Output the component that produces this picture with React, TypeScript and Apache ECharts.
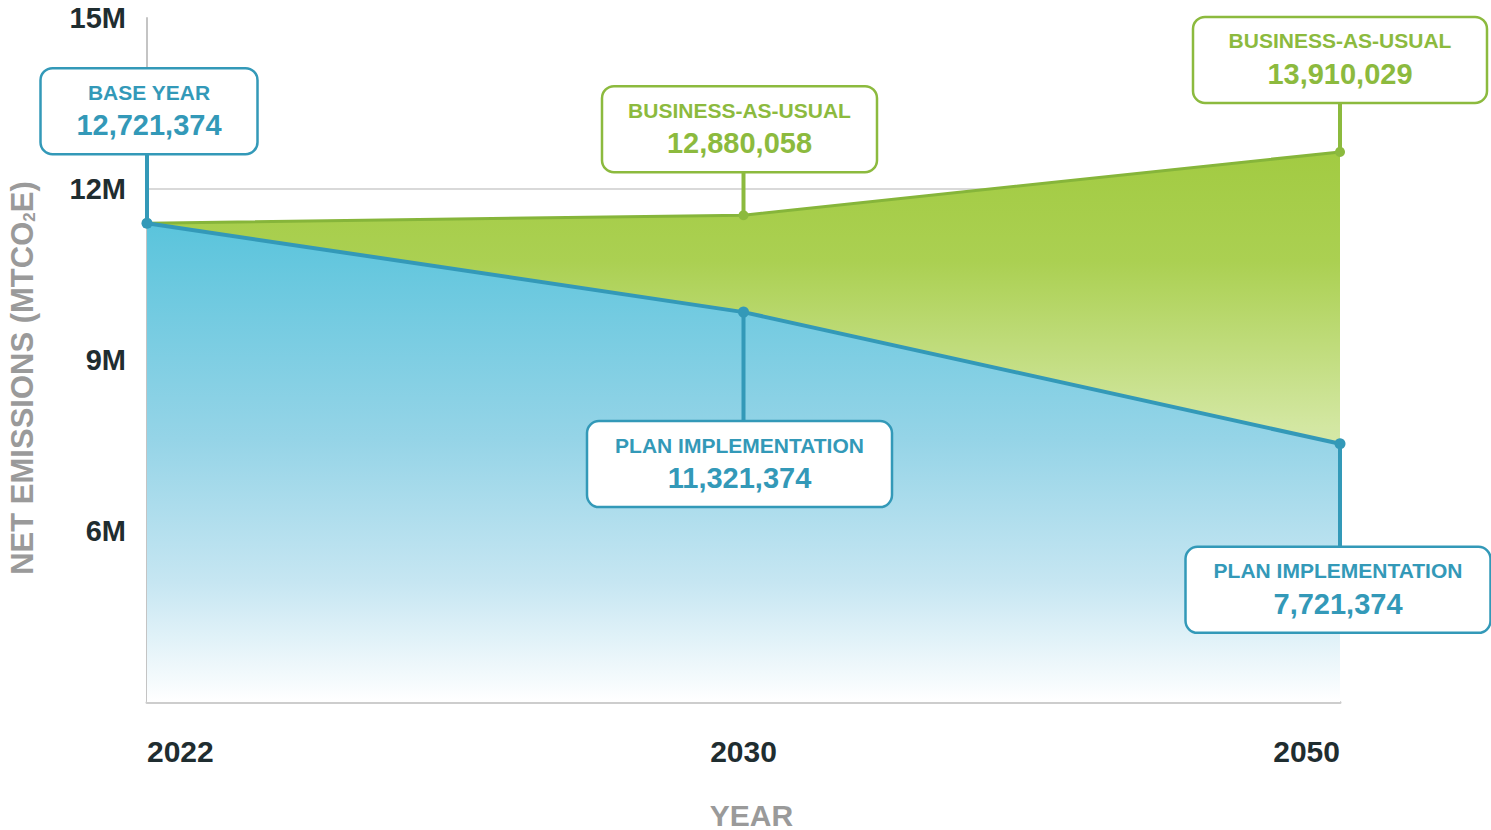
import React, { useEffect, useRef } from 'react';
import * as echarts from 'echarts';

// ---- data ----
const years = ['2022', '2030', '2050'];
// plotted positions of the lines (illustrative chart)
const planValues = [11.4e6, 9.84e6, 7.53e6];
const bauValues = [11.4e6, 11.54e6, 12.65e6];
const yMin = 3e6;
const yMax = 15e6;
const yStep = 3e6;
// callouts
const calloutTitles = ['BASE YEAR', 'BUSINESS-AS-USUAL', 'BUSINESS-AS-USUAL', 'PLAN IMPLEMENTATION', 'PLAN IMPLEMENTATION'];
const calloutValues = ['12,721,374', '12,880,058', '13,910,029', '11,321,374', '7,721,374'];
const calloutSeries = ['plan', 'bau', 'bau', 'plan', 'plan'];
const calloutIndex = [0, 1, 2, 1, 2];

const FONT = '"Liberation Sans", Arial, Helvetica, sans-serif';
const TEAL = '#3399b8';
const GREEN = '#8cba3e';

// layout of each callout box relative to its point
const calloutLayout = [
  { w: 217, gap: -69, dx: 2 },
  { w: 275, gap: -43, dx: -4 },
  { w: 294, gap: -49, dx: 0 },
  { w: 305, gap: 109, dx: -4 },
  { w: 305, gap: 103, dx: -2 },
];
const BOX_H = 86;

export default function App() {
  const ref = useRef<HTMLDivElement>(null);

  useEffect(() => {
    document.body.style.margin = '0';
    if (!ref.current) return;
    const chart = echarts.init(ref.current, null, { renderer: 'svg' });

    const option: any = {
      animation: false,
      backgroundColor: '#ffffff',
      grid: { left: 147, right: 151, top: 18, bottom: 128, containLabel: false, outerBoundsMode: 'none' },
      xAxis: {
        type: 'category',
        data: years,
        boundaryGap: false,
        axisLine: { show: true, lineStyle: { color: '#cdcdcd', width: 3 } },
        axisTick: { show: false },
        axisLabel: {
          color: '#1f2d30',
          fontFamily: FONT,
          fontWeight: 'bold',
          fontSize: 30,
          margin: 34,
          alignMinLabel: 'left',
          alignMaxLabel: 'right',
        },
        splitLine: { show: false },
        name: 'YEAR',
        nameLocation: 'middle',
        nameGap: 98,
        nameTextStyle: { color: '#9a9a9a', fontFamily: FONT, fontWeight: 'bold', fontSize: 30, padding: [0, 0, 0, 16] },
      },
      yAxis: {
        type: 'value',
        min: yMin,
        max: yMax,
        interval: yStep,
        axisLine: { show: true, lineStyle: { color: '#c4c4c4', width: 2 } },
        axisTick: { show: false },
        splitLine: {
          show: true,
          showMinLine: false,
          showMaxLine: false,
          lineStyle: { color: '#d9d9d9', width: 2 },
        },
        axisLabel: {
          color: '#1f2d30',
          fontFamily: FONT,
          fontWeight: 'bold',
          fontSize: 29,
          margin: 21,
          formatter: (v: number) => (v === yMin ? '' : v / 1e6 + 'M'),
        },
        name: 'NET EMISSIONS (MTCO{sub|2}E)',
        nameLocation: 'middle',
        nameRotate: 90,
        nameGap: 109,
        nameTextStyle: {
          color: '#9a9a9a',
          fontFamily: FONT,
          fontWeight: 'bold',
          fontSize: 31,
          padding: [0, 36, 0, 0],
          rich: {
            sub: { color: '#9a9a9a', fontFamily: FONT, fontWeight: 'bold', fontSize: 17, verticalAlign: 'bottom', padding: [14, 0, 0, 0] },
          },
        },
      },
      series: [
        {
          name: 'bau',
          type: 'line',
          data: bauValues,
          z: 2,
          symbol: 'circle',
          symbolSize: 10,
          itemStyle: { color: GREEN },
          lineStyle: { color: '#86b53a', width: 3 },
          areaStyle: {
            opacity: 1,
            color: new echarts.graphic.LinearGradient(0, 0, 0, 1, [
              { offset: 0, color: '#a2cb42' },
              { offset: 0.2, color: '#abd052' },
              { offset: 0.5, color: '#d3e7a2' },
              { offset: 1, color: '#eef6dd' },
            ]),
          },
        },
        {
          name: 'plan',
          type: 'line',
          data: planValues,
          z: 3,
          symbol: 'circle',
          symbolSize: 11,
          itemStyle: { color: TEAL },
          lineStyle: { color: TEAL, width: 4 },
          areaStyle: {
            opacity: 1,
            color: new echarts.graphic.LinearGradient(0, 0, 0, 1, [
              { offset: 0, color: '#5ac4dc' },
              { offset: 0.45, color: '#95d4e7' },
              { offset: 0.75, color: '#c6e6f2' },
              { offset: 1, color: '#ffffff' },
            ]),
          },
        },
      ],
    };
    chart.setOption(option);

    const elements: any[] = [];
    calloutTitles.forEach((title, i) => {
      const sName = calloutSeries[i];
      const vals = sName === 'plan' ? planValues : bauValues;
      const idx = calloutIndex[i];
      const p = chart.convertToPixel({ gridIndex: 0 }, [idx, vals[idx]]) as number[];
      const lay = calloutLayout[i];
      const color = sName === 'plan' ? TEAL : GREEN;
      const px = p[0];
      const py = p[1];
      const cx = px + lay.dx;
      const top = lay.gap < 0 ? py + lay.gap - BOX_H : py + lay.gap;
      const edge = lay.gap < 0 ? top + BOX_H : top;
      elements.push({
        type: 'line',
        z: 100,
        shape: { x1: px, y1: py, x2: px, y2: edge },
        style: { stroke: color, lineWidth: 4 },
      });
      elements.push({
        type: 'rect',
        z: 101,
        shape: { x: cx - lay.w / 2, y: top, width: lay.w, height: BOX_H, r: 12 },
        style: { fill: '#ffffff', stroke: color, lineWidth: 2.5 },
      });
      elements.push({
        type: 'text',
        z: 102,
        x: cx,
        y: top + 24,
        style: {
          text: title,
          fill: color,
          font: `bold 21px ${FONT}`,
          textAlign: 'center',
          textVerticalAlign: 'middle',
        },
      });
      elements.push({
        type: 'text',
        z: 102,
        x: cx,
        y: top + 57,
        style: {
          text: calloutValues[i],
          fill: color,
          font: `bold 29px ${FONT}`,
          textAlign: 'center',
          textVerticalAlign: 'middle',
        },
      });
    });
    chart.setOption({ graphic: elements });

    return () => chart.dispose();
  }, []);

  return <div ref={ref} style={{ width: 1491, height: 830 }} />;
}
